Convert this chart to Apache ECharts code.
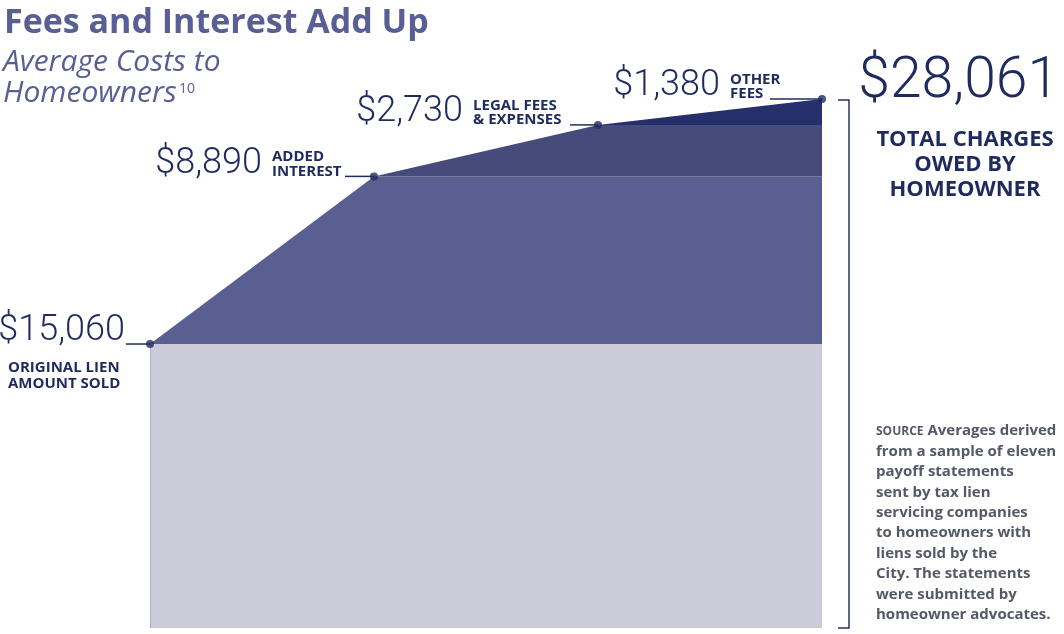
<!DOCTYPE html>
<html><head><meta charset="utf-8">
<script src="https://cdn.jsdelivr.net/npm/echarts@6/dist/echarts.min.js"></script>
<style>html,body{margin:0;padding:0;background:#fff}#c{width:1064px;height:634px}</style>
</head><body><div id="c"></div>
<script>
// ---- data ----
const categories = ['Original lien amount sold', 'Added interest', 'Legal fees & expenses', 'Other fees'];
const componentValues = [15060, 8890, 2730, 1380];
const valueLabels = ['$15,060', '$8,890', '$2,730', '$1,380'];
const componentLabels = [['ORIGINAL LIEN', 'AMOUNT SOLD'], ['ADDED', 'INTEREST'], ['LEGAL FEES', '& EXPENSES'], ['OTHER', 'FEES']];
const totalLabel = '$28,061';
const totalCaption = ['TOTAL CHARGES', 'OWED BY', 'HOMEOWNER'];
const titleText = 'Fees and Interest Add Up';
const subtitleLines = ['Average Costs to', 'Homeowners'];
const footnoteMark = '10';
const sourceLines = ['Averages derived', 'from a sample of eleven', 'payoff statements', 'sent by tax lien',
  'servicing companies', 'to homeowners with', 'liens sold by the', 'City. The statements',
  'were submitted by', 'homeowner advocates.'];

// ---- styles ----
const areaColors = ['#cccbd9', '#5a5f91', '#464b7b', '#25306b'];
const navy = '#1f2b5e';
const titleColor = '#595f94';
const sourceColor = '#535967';
const numFont = 'Roboto';
const boldFont = '"Open Sans"';

const chart = echarts.init(document.getElementById('c'));

const cum = [];
let run = 0;
componentValues.forEach(v => { run += v; cum.push(run); });

const series = componentValues.map((v, k) => ({
  name: categories[k],
  type: 'line',
  stack: 'total',
  data: categories.map((c, i) => (k === 0 || i >= k) ? v : 0),
  symbol: 'none',
  lineStyle: { width: 0 },
  areaStyle: { color: areaColors[k], opacity: 1 },
  silent: true,
  z: 2
}));
series.push({
  type: 'scatter',
  data: cum.map((v, i) => [i, v]),
  symbolSize: 8,
  itemStyle: { color: navy },
  silent: true,
  z: 6
});

chart.setOption({
  animation: false,
  grid: { left: 150, right: 242, top: 62.3, bottom: 6 },
  xAxis: { type: 'category', data: categories, boundaryGap: false, show: false },
  yAxis: { type: 'value', min: 0, max: 30000, show: false },
  series: series
});

const px = (i, v) => chart.convertToPixel({ xAxisIndex: 0, yAxisIndex: 0 }, [i, v]);
const g = [];
const numSize = 36;

// left edge of base area
const b0 = px(0, 0), b1 = px(0, componentValues[0]);
g.push({ type: 'line', shape: { x1: b0[0] + 0.5, y1: b0[1], x2: b1[0] + 0.5, y2: b1[1] }, style: { stroke: '#b2b0c6', lineWidth: 1 }, z: 3 });

// annotation layout offsets (relative to dot)
const labelDx = [0, -102, -125, -92];
const leaderDx = [-24, -29, -28, -52];

cum.forEach((v, i) => {
  const p = px(i, v);
  g.push({ type: 'line', shape: { x1: p[0] + leaderDx[i], y1: p[1], x2: p[0], y2: p[1] }, style: { stroke: navy, lineWidth: 1.5 }, z: 5 });
  if (i === 0) {
    g.push({ type: 'text', x: p[0] - 25, y: p[1] - 2 - 0.3 * numSize, style: { text: valueLabels[i], font: `300 ${numSize}px ${numFont}`, fill: navy, align: 'right', verticalAlign: 'middle' }, z: 5 });
    componentLabels[i].forEach((t, j) => {
      g.push({ type: 'text', x: 8, y: p[1] + 24 + j * 15.5, style: { text: t, font: `bold 15px ${boldFont}`, fill: navy, align: 'left', verticalAlign: 'middle' }, z: 5 });
    });
  } else {
    const lx = p[0] + labelDx[i];
    g.push({ type: 'text', x: lx - 10, y: p[1] - 2 - 0.3 * numSize, style: { text: valueLabels[i], font: `300 ${numSize}px ${numFont}`, fill: navy, align: 'right', verticalAlign: 'middle' }, z: 5 });
    componentLabels[i].forEach((t, j) => {
      g.push({ type: 'text', x: lx, y: p[1] - 19.5 + j * 14.5, style: { text: t, font: `bold 15px ${boldFont}`, fill: navy, align: 'left', verticalAlign: 'middle' }, z: 5 });
    });
  }
});

// total bracket
const pTop = px(3, cum[3]);
const pBot = px(3, 0);
const bx = pTop[0] + 27;
g.push({ type: 'polyline', shape: { points: [[bx - 11, pTop[1] + 1], [bx, pTop[1] + 1], [bx, pBot[1]], [bx - 11, pBot[1]]] }, style: { stroke: '#2a3463', lineWidth: 1.5, fill: null }, z: 5 });

g.push({ type: 'text', x: 1059, y: 100 - 0.3 * 57, style: { text: totalLabel, font: `300 57px ${numFont}`, fill: navy, align: 'right', verticalAlign: 'middle' }, z: 5 });
g.push({ type: 'text', x: 965, y: 164.5, style: { text: totalCaption.join('\n'), font: `bold 22px ${boldFont}`, lineHeight: 25, fill: navy, align: 'center', verticalAlign: 'middle' }, z: 5 });

// title
g.push({ type: 'text', x: 4, y: 23.5, style: { text: titleText, font: `bold 34px ${boldFont}`, fill: titleColor, align: 'left', verticalAlign: 'middle' }, z: 5 });
g.push({ type: 'text', x: 3, y: 62, style: { text: subtitleLines[0], font: `italic 30px ${boldFont}`, fill: titleColor, align: 'left', verticalAlign: 'middle' }, z: 5 });
g.push({ type: 'text', x: 3, y: 93, style: { text: subtitleLines[1], font: `italic 30px ${boldFont}`, fill: titleColor, align: 'left', verticalAlign: 'middle' }, z: 5 });
g.push({ type: 'text', x: 179, y: 89, style: { text: footnoteMark, font: `14px ${boldFont}`, fill: titleColor, align: 'left', verticalAlign: 'middle' }, z: 5 });

// source
g.push({
  type: 'text', x: 876, y: 421, z: 5,
  style: {
    text: '{s|SOURCE} ' + sourceLines[0] + '\n' + sourceLines.slice(1).join('\n'),
    font: `bold 15px ${boldFont}`, fill: sourceColor, lineHeight: 20.4, align: 'left', verticalAlign: 'top',
    rich: { s: { font: `bold 12px ${boldFont}`, fill: sourceColor, lineHeight: 20.4 } }
  }
});

chart.setOption({ graphic: g });
</script>
</body></html>
